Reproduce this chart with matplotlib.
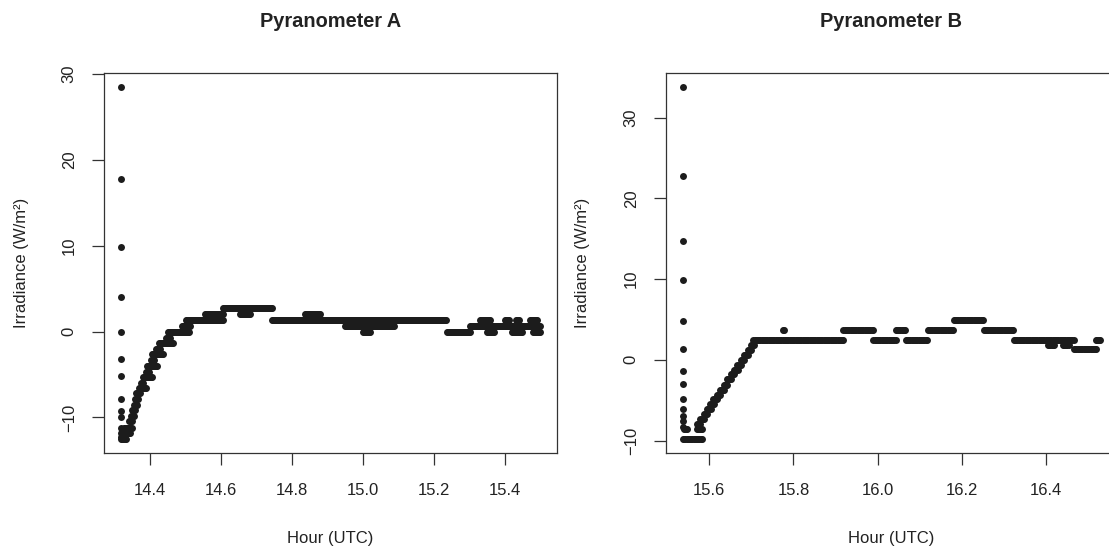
import numpy as np
import matplotlib
matplotlib.use("Agg")
import matplotlib.pyplot as plt

plt.rcParams['font.family'] = ['Liberation Sans', 'DejaVu Sans']

# logger sample period (hours)
SAMPLE_H = 1 / 360

# --- Pyranometer A ---------------------------------------------------------
a_spike_t = 14.318
a_spike_v = [28.5, 17.8, 9.9, 4.0, 0.0, -3.2, -5.2, -7.9, -9.3, -10.0, -11.2, -11.8, -12.3]

# constant-level runs: (start hour, end hour, irradiance)
a_runs = [
    (14.320, 14.336, -12.5), (14.321, 14.345, -11.8), (14.326, 14.350, -11.2),
    (14.342, 14.352, -10.4), (14.346, 14.357, -9.8), (14.350, 14.361, -9.1),
    (14.354, 14.365, -8.5), (14.358, 14.369, -7.8), (14.362, 14.374, -7.2),
    (14.368, 14.392, -6.6), (14.376, 14.384, -6.0), (14.380, 14.406, -5.3),
    (14.388, 14.398, -4.7), (14.392, 14.420, -4.0), (14.402, 14.412, -3.3),
    (14.406, 14.437, -2.6), (14.418, 14.430, -2.0), (14.426, 14.465, -1.3),
    (14.446, 14.458, -0.7), (14.452, 14.513, 0.0),
    (14.490, 14.513, 0.7), (14.502, 14.606, 1.4), (14.555, 14.606, 2.1),
    (14.606, 14.745, 2.7), (14.654, 14.682, 2.1), (14.745, 14.949, 1.4),
    (14.837, 14.879, 2.1), (14.949, 15.090, 1.4), (14.949, 15.090, 0.7),
    (15.000, 15.020, 0.0), (15.090, 15.237, 1.4), (15.237, 15.301, 0.0),
    (15.301, 15.338, 0.7), (15.321, 15.500, 0.7), (15.330, 15.360, 1.4),
    (15.400, 15.412, 1.4), (15.430, 15.440, 1.4), (15.470, 15.490, 1.4),
    (15.350, 15.370, 0.0), (15.420, 15.450, 0.0), (15.480, 15.500, 0.0),
]

a_xticks = [14.4, 14.6, 14.8, 15.0, 15.2, 15.4]
a_xticklabels = ["14.4", "14.6", "14.8", "15.0", "15.2", "15.4"]

# --- Pyranometer B ---------------------------------------------------------
b_spike_t = 15.537
b_spike_v = [33.8, 22.8, 14.7, 9.85, 4.84, 1.3, -1.4, -3.0, -4.9, -6.1, -6.9, -7.6, -8.3]

b_runs = [
    (15.538, 15.583, -9.8), (15.539, 15.548, -8.6), (15.570, 15.584, -8.6),
    (15.570, 15.580, -8.0), (15.579, 15.589, -7.3), (15.587, 15.597, -6.7),
    (15.595, 15.605, -6.1), (15.603, 15.613, -5.5), (15.610, 15.620, -4.9),
    (15.618, 15.628, -4.3), (15.626, 15.636, -3.7), (15.634, 15.644, -3.1),
    (15.643, 15.653, -2.4), (15.651, 15.661, -1.8), (15.659, 15.669, -1.2),
    (15.667, 15.677, -0.6), (15.675, 15.685, 0.0), (15.683, 15.693, 0.6),
    (15.691, 15.701, 1.2), (15.699, 15.709, 1.8), (15.705, 15.919, 2.4),
    (15.775, 15.778, 3.7), (15.919, 15.990, 3.7), (15.990, 16.043, 2.4),
    (16.043, 16.067, 3.7), (16.067, 16.119, 2.4), (16.119, 16.181, 3.7),
    (16.181, 16.252, 4.9), (16.252, 16.324, 3.7), (16.324, 16.467, 2.4),
    (16.405, 16.420, 1.8), (16.440, 16.455, 1.8), (16.467, 16.520, 1.3),
    (16.518, 16.531, 2.4),
]

b_xticks = [15.6, 15.8, 16.0, 16.2, 16.4]
b_xticklabels = ["15.6", "15.8", "16.0", "16.2", "16.4"]

yticks = [-10, 0, 10, 20, 30]
yticklabels = ["\u221210", "0", "10", "20", "30"]


def expand(spike_t, spike_v, runs):
    t = [np.full(len(spike_v), spike_t)]
    v = [np.asarray(spike_v, dtype=float)]
    for t0, t1, lev in runs:
        tt = np.arange(t0, t1 + 1e-9, SAMPLE_H)
        t.append(tt)
        v.append(np.full(len(tt), lev))
    return np.concatenate(t), np.concatenate(v)


def draw(ax, t, v, title, xticks, xticklabels):
    ax.plot(t, v, 'o', ls='none', ms=5.0, color='#1c1c1c', mec='none')
    ax.margins(x=0.04, y=0.04)
    ax.set_xticks(xticks)
    ax.set_xticklabels(xticklabels)
    ax.set_yticks(yticks)
    ax.set_yticklabels(yticklabels)
    plt.setp(ax.get_yticklabels(), rotation=90, va='center')
    ax.tick_params(axis='both', direction='out', length=8.6, width=0.9,
                   color='#333333', labelsize=12, labelcolor='#222222')
    ax.tick_params(axis='x', pad=13)
    ax.tick_params(axis='y', pad=11)
    for sp in ax.spines.values():
        sp.set_color('#333333')
        sp.set_linewidth(0.9)
    ax.set_title(title, fontsize=14.4, fontweight='bold', color='#222222',
                 y=1 + 43 / 380, va='center')
    ax.set_xlabel("Hour (UTC)", fontsize=12, color='#222222')
    ax.set_ylabel("Irradiance (W/m\u00b2)", fontsize=12, color='#222222')
    ax.xaxis.label.set_va('center')
    ax.yaxis.label.set_va('center')


fig = plt.figure(figsize=(11.09, 5.49), dpi=100)
ax_a = fig.add_axes([104 / 1109, 96 / 549, 453 / 1109, 380 / 549])
ax_b = fig.add_axes([666 / 1109, 96 / 549, 451 / 1109, 380 / 549])

ta, va = expand(a_spike_t, a_spike_v, a_runs)
tb, vb = expand(b_spike_t, b_spike_v, b_runs)

draw(ax_a, ta, va, "Pyranometer A", a_xticks, a_xticklabels)
draw(ax_b, tb, vb, "Pyranometer B", b_xticks, b_xticklabels)

ax_a.xaxis.set_label_coords(0.5, -85 / 380)
ax_b.xaxis.set_label_coords(0.5, -85 / 380)
ax_a.yaxis.set_label_coords(-82 / 453, 0.5)
ax_b.yaxis.set_label_coords(-83 / 451, 0.5)

fig.savefig("out.png", dpi=100)
